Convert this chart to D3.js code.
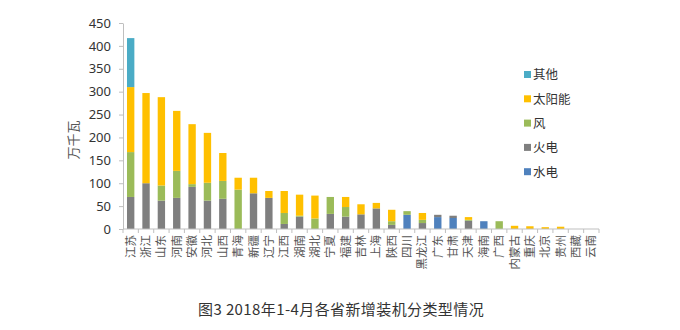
<!DOCTYPE html>
<html><head><meta charset="utf-8">
<script src="https://cdn.jsdelivr.net/npm/d3@7"></script>
<style>body{margin:0;background:#fff}svg{display:block}</style>
</head><body>
<svg id="c" width="680" height="330"></svg>
<script>
const categories = ['江苏','浙江','山东','河南','安徽','河北','山西','青海','新疆','辽宁','江西','湖南','湖北','宁夏','福建','吉林','上海','陕西','四川','黑龙江','广东','甘肃','天津','海南','广西','内蒙古','重庆','北京','贵州','西藏','云南'];
const hydro = [0,0,0,0,0,0,0,0,0,0,0,0,0,0,0,0,0,0,31,0,26,24,0,17,0,0,0,0,0,0,0];
const thermal = [70,100,62,68,92,62,66,0,78,68,11,27,0,33,27,32,45,9,0,13,5,5,18,0,0,0,0,0,0,0,0];
const wind = [98,0,33,59,6,39,39,86,0,0,24,2,23,37,21,0,0,8,8,7,0,0,2,0,17,0,0,0,0,0,0];
const solar = [142,197,193,131,131,109,61,26,34,15,48,46,50,0,22,22,12,25,0,15,0,0,6,0,0,7,6,4,5,0,0];
const other = [107,0,0,0,0,0,0,0,0,0,0,0,0,0,0,0,0,0,0,0,0,0,0,0,0,0,0,0,0,0,0];
const seriesNames = ['水电','火电','风','太阳能','其他'];
const seriesColors = ['#4f81bd','#7f7f7f','#9bbb59','#ffc000','#4bacc6'];
const yTicks = [0,50,100,150,200,250,300,350,400,450];
const yTitle = '万千瓦';
const caption = '图3 2018年1-4月各省新增装机分类型情况';

const svg = d3.select('#c');
const pL = 123, pR = 599, pT = 23, pB = 229;
const x = d3.scaleBand().domain(categories).range([pL, pR]).paddingInner(0.52).paddingOuter(0.26);
const y = d3.scaleLinear().domain([0,450]).range([pB, pT]);

const rows = categories.map((c,i)=>({cat:c, '水电':hydro[i], '火电':thermal[i], '风':wind[i], '太阳能':solar[i], '其他':other[i]}));
const stacked = d3.stack().keys(seriesNames)(rows);

svg.append('g').selectAll('g').data(stacked).join('g')
  .attr('fill',(d,i)=>seriesColors[i])
  .selectAll('rect').data(d=>d).join('rect')
  .attr('x',d=>x(d.data.cat)).attr('width',x.bandwidth())
  .attr('y',d=>y(d[1])).attr('height',d=>Math.max(0,y(d[0])-y(d[1])));

// y axis
const ya = svg.append('g').attr('transform',`translate(${pL},0)`)
  .call(d3.axisLeft(y).tickValues(yTicks).tickSize(4).tickSizeOuter(0).tickPadding(8));
ya.select('.domain').attr('stroke','#bfbfbf');
ya.selectAll('.tick line').attr('stroke','#bfbfbf');
ya.selectAll('text').attr('font-family','"Noto Sans", "DejaVu Sans", sans-serif').attr('font-size',13).attr('fill','#333');

// x axis with ticks at band boundaries
const xa = svg.append('g').attr('transform',`translate(0,${pB})`);
xa.append('line').attr('x1',pL).attr('x2',pR).attr('y1',0).attr('y2',0).attr('stroke','#bfbfbf');
const boundaries = d3.range(categories.length+1).map(i=> pL + i*(pR-pL)/categories.length);
xa.selectAll('line.t').data(boundaries).join('line').attr('class','t')
  .attr('x1',d=>d).attr('x2',d=>d).attr('y1',0).attr('y2',4).attr('stroke','#bfbfbf');
xa.selectAll('text').data(categories).join('text')
  .attr('transform',d=>`translate(${x(d)+x.bandwidth()/2+4},6) rotate(-90)`)
  .attr('text-anchor','end')
  .attr('font-family','"Noto Sans CJK SC", sans-serif').attr('font-size',11.5).attr('fill','#555')
  .text(d=>d);

// y title
svg.append('text').attr('transform','translate(78,140) rotate(-90)')
  .attr('text-anchor','middle').attr('font-family','"Noto Sans CJK SC", serif').attr('font-size',13).attr('fill','#595959')
  .text(yTitle);

// legend
const legendOrder = [4,3,2,1,0];
const lg = svg.append('g');
legendOrder.forEach((si,k)=>{
  const yy = 75 + k*24.3;
  lg.append('rect').attr('x',524).attr('y',yy-4).attr('width',7).attr('height',7).attr('fill',seriesColors[si]);
  lg.append('text').attr('x',533).attr('y',yy).attr('dy','0.35em')
    .attr('font-family','"Noto Sans CJK SC", sans-serif').attr('font-size',12.5).attr('fill','#333').text(seriesNames[si]);
});

// caption
svg.append('text').attr('x',198).attr('y',310).attr('dy','0.35em').attr('text-anchor','start')
  .attr('font-family','"Noto Sans CJK SC", sans-serif').attr('font-size',15).attr('letter-spacing',0.4).attr('fill','#333').text(caption);
</script>
</body></html>
